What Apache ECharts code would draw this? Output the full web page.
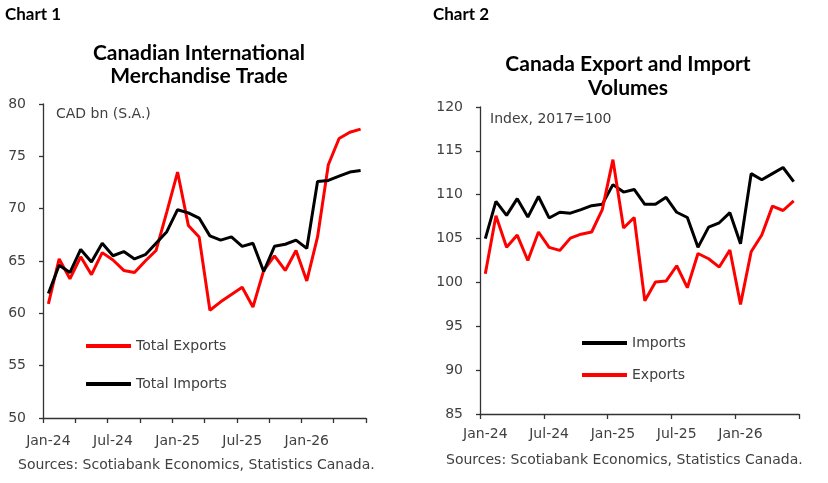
<!DOCTYPE html>
<html>
<head>
<meta charset="utf-8">
<script src="https://cdn.jsdelivr.net/npm/echarts@6/dist/echarts.min.js"></script>
<style>
html,body{margin:0;padding:0;background:#fff;}
#main{width:828px;height:483px;}
</style>
</head>
<body>
<div id="main"></div>
<script>
// Categories (monthly)
var months = ['Jan-24','Feb-24','Mar-24','Apr-24','May-24','Jun-24','Jul-24','Aug-24','Sep-24','Oct-24','Nov-24','Dec-24',
              'Jan-25','Feb-25','Mar-25','Apr-25','May-25','Jun-25','Jul-25','Aug-25','Sep-25','Oct-25','Nov-25','Dec-25',
              'Jan-26','Feb-26','Mar-26','Apr-26','May-26','Jun-26'];

// Chart 1: Canadian International Merchandise Trade (CAD bn, S.A.)
var totalExports = [60.9,65.2,63.3,65.4,63.7,65.8,65.1,64.1,63.9,65.0,66.0,69.7,
                    73.5,68.4,67.3,60.3,61.1,61.8,62.5,60.6,64.1,65.5,64.1,66.0,
                    63.1,67.3,74.2,76.7,77.3,77.6];
var totalImports = [61.9,64.6,63.9,66.1,64.9,66.7,65.5,65.9,65.2,65.6,66.7,67.8,
                    69.9,69.6,69.1,67.4,67.0,67.3,66.4,66.7,64.0,66.4,66.6,67.0,
                    66.2,72.6,72.7,73.1,73.5,73.65];

// Chart 2: Canada Export and Import Volumes (Index, 2017=100)
var volImports = [105.0,109.25,107.65,109.55,107.45,109.8,107.35,108.0,107.9,108.3,108.75,108.9,
                  111.15,110.3,110.6,108.9,108.9,109.7,108.0,107.4,104.0,106.3,106.8,107.95,
                  104.4,112.4,111.7,112.4,113.1,111.5];
var volExports = [101.0,107.6,104.0,105.4,102.5,105.75,104.0,103.65,105.05,105.5,105.75,108.3,
                  114.0,106.2,107.4,97.9,100.05,100.15,101.9,99.4,103.3,102.7,101.75,103.7,
                  97.5,103.5,105.4,108.7,108.2,109.3];

var labelFont = 'DejaVu Sans';
var textColor = '#404040';
var axisColor = '#333333';

function xAxisCfg(grid, tickEvery, margin) {
  return {
    type: 'category', gridIndex: grid, data: months, boundaryGap: true,
    axisLine: {show: true, lineStyle: {color: axisColor, width: 1.3}},
    axisTick: {show: true, length: 5, interval: function (i) { return i % tickEvery === 0; }, lineStyle: {color: axisColor, width: 1.3}},
    axisLabel: {interval: function (i) { return i % 6 === 0; }, margin: margin, fontFamily: labelFont, fontSize: 14, color: textColor},
    splitLine: {show: false}
  };
}
function yAxisCfg(grid, min, max) {
  return {
    type: 'value', gridIndex: grid, min: min, max: max, interval: 5,
    axisLine: {show: true, lineStyle: {color: axisColor, width: 1.3}},
    axisTick: {show: true, length: 4, lineStyle: {color: axisColor, width: 1.3}},
    axisLabel: {margin: 17, fontFamily: labelFont, fontSize: 14, color: textColor},
    splitLine: {show: false}
  };
}
function lineSeries(name, data, color, idx) {
  return {
    name: name, type: 'line', data: data, xAxisIndex: idx, yAxisIndex: idx,
    showSymbol: false, symbol: 'none', lineStyle: {color: color, width: 3}, itemStyle: {color: color},
    z: 3
  };
}
function legendCfg(name, left, top) {
  return {
    data: [name], left: left, top: top, padding: 0, icon: 'rect', itemWidth: 45, itemHeight: 4, itemGap: 0,
    textStyle: {fontFamily: labelFont, fontSize: 14, color: textColor}
  };
}
var titleStyle = {fontFamily: 'Lato', fontWeight: 'bold', fontSize: 21, color: '#000'};
var smallStyle = {fontFamily: labelFont, fontWeight: 'normal', fontSize: 14, color: textColor};
var chartLabelStyle = {fontFamily: 'Lato', fontWeight: 'bold', fontSize: 17, color: '#000'};

var chart = echarts.init(document.getElementById('main'), null, {renderer: 'canvas'});
chart.setOption({
  animation: false,
  backgroundColor: '#ffffff',
  title: [
    {text: 'Chart 1', left: 5, top: 6, padding: 0, textStyle: chartLabelStyle},
    {text: 'Chart 2', left: 433, top: 6, padding: 0, textStyle: chartLabelStyle},
    {text: 'Canadian International\nMerchandise Trade', left: 199, top: 42, padding: 0, textAlign: 'center',
     textStyle: Object.assign({lineHeight: 23}, titleStyle)},
    {text: 'Canada Export and Import\nVolumes', left: 628, top: 52, padding: 0, textAlign: 'center',
     textStyle: Object.assign({lineHeight: 24}, titleStyle)},
    {text: 'CAD bn (S.A.)', left: 56, top: 107, padding: 0, textStyle: smallStyle},
    {text: 'Index, 2017=100', left: 490, top: 112, padding: 0, textStyle: smallStyle},
    {text: 'Sources: Scotiabank Economics, Statistics Canada.', left: 18, top: 458, padding: 0, textStyle: smallStyle},
    {text: 'Sources: Scotiabank Economics, Statistics Canada.', left: 446, top: 453, padding: 0, textStyle: smallStyle}
  ],
  grid: [
    {left: 43, top: 104, width: 323, height: 314},
    {left: 480, top: 107, width: 319, height: 307}
  ],
  xAxis: [xAxisCfg(0, 3, 16), xAxisCfg(1, 6, 13)],
  yAxis: [yAxisCfg(0, 50, 80), yAxisCfg(1, 85, 120)],
  legend: [
    legendCfg('Total Exports', 86, 339),
    legendCfg('Total Imports', 86, 377),
    legendCfg('Imports', 582, 336),
    legendCfg('Exports', 582, 368)
  ],
  series: [
    lineSeries('Total Exports', totalExports, '#ff0000', 0),
    lineSeries('Total Imports', totalImports, '#000000', 0),
    lineSeries('Imports', volImports, '#000000', 1),
    lineSeries('Exports', volExports, '#ff0000', 1)
  ]
});
</script>
</body>
</html>
